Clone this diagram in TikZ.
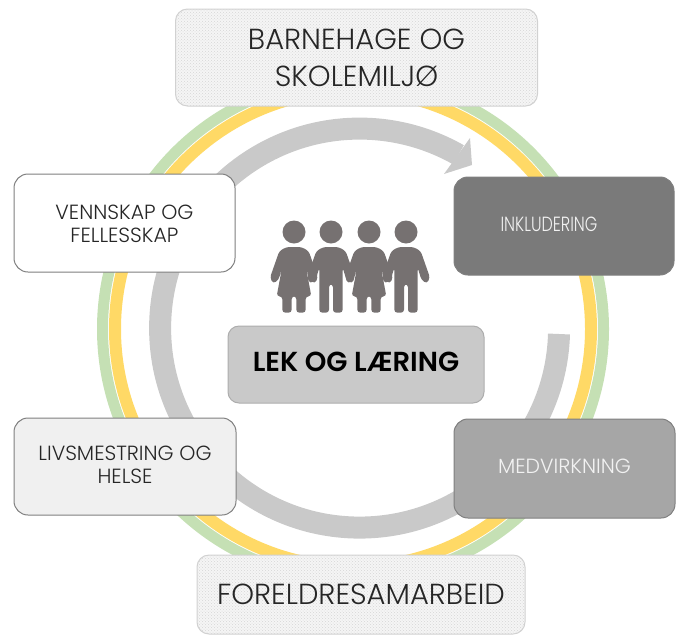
\documentclass[tikz,border=0pt]{standalone}
\usepackage{fontspec}
\usepackage{graphicx}
\setmainfont{Poppins}[UprightFont=* Light,BoldFont=* SemiBold]
\usetikzlibrary{patterns}
\definecolor{ringgreen}{HTML}{C5E0B4}
\definecolor{ringgold}{HTML}{FFD966}
\definecolor{arcgray}{HTML}{C9C9C9}
\definecolor{iconcol}{HTML}{767171}
\definecolor{edgegray}{HTML}{7F7F7F}
\tikzset{
  box/.style={draw=edgegray,line width=1pt,rounded corners=14pt,inner sep=0pt},
  texbox/.style={draw=black!18,line width=1pt,rounded corners=12pt,align=center,inner sep=0pt,fill=black!4,
     postaction={pattern=crosshatch dots,pattern color=black!16},text=black!85},
  small/.style={font=\fontsize{20.5}{23}\selectfont,align=center,inner sep=0pt},
  big/.style={font=\fontsize{29}{37}\selectfont},
}
\newcommand{\girlfig}[1]{%
\begin{scope}[shift={(#1,-247)},x=.3333pt,y=-.3333pt]
  \fill[iconcol,rounded corners=3pt] (-22,0) -- (-44,12) -- (-72,92) -- (-62,110) -- (-46,98) -- (-36,62) -- (-52,148) -- (-35,148) -- (-35,197) -- (-7,197) -- (-7,148) -- (7,148) -- (7,197) -- (35,197) -- (35,148) -- (52,148) -- (36,62) -- (46,98) -- (62,110) -- (72,92) -- (44,12) -- (22,0) -- cycle;
\end{scope}}
\newcommand{\boyfig}[1]{%
\begin{scope}[shift={(#1,-247)},x=.3333pt,y=-.3333pt]
  \fill[iconcol,rounded corners=3pt] (-22,0) -- (-44,12) -- (-72,92) -- (-62,110) -- (-46,98) -- (-35,62) -- (-35,197) -- (-6,197) -- (-6,112) -- (6,112) -- (6,197) -- (35,197) -- (35,62) -- (46,98) -- (62,110) -- (72,92) -- (44,12) -- (22,0) -- cycle;
\end{scope}}
\begin{document}
\begin{tikzpicture}[x=1pt,y=1pt]
\useasboundingbox (0,0) rectangle (682,-635);
% rings
\coordinate (c) at (353,-329);
\draw[ringgreen,line width=11pt] (c) circle (250.5pt);
\draw[ringgold,line width=12pt] (c) circle (238pt);
% gray arrow ring
\draw[arcgray,line width=22pt] (559,-334) arc[start angle=-1.7,end angle=-299.7,radius=199.5pt];
\fill[arcgray] (470,-138) -- (472,-165) -- (444,-174) -- cycle;
% boxes
\node[texbox,big,minimum width=362pt,minimum height=97pt] (barnehage) at (356.5,-57.5) {BARNEHAGE OG\\SKOLEMILJØ};
\node[box,fill=white,minimum width=221pt,minimum height=98pt] (venn) at (124.5,-223) {};
\node[small,text=black!85] (vennT) at ([yshift=-1pt]venn.center) {VENNSKAP OG\\FELLESSKAP};
\node[box,fill=black!52,minimum width=220pt,minimum height=98pt] (inkl) at (564,-226) {};
\node[small,text=black!5] (inklT) at (549,-224) {\scalebox{.78}[1]{INKLUDERING}};
\node[box,fill=black!35,minimum width=221pt,minimum height=99pt] (medv) at (564.5,-468.5) {};
\node[small,text=black!5] (medvT) at ([yshift=2pt]medv.center) {MEDVIRKNING};
\node[box,fill=black!6,minimum width=222pt,minimum height=97pt] (livs) at (125,-466.5) {};
\node[small,text=black!85] (livsT) at ([yshift=2pt]livs.center) {LIVSMESTRING OG\\HELSE};
\node[texbox,big,minimum width=328pt,minimum height=79pt] (foreldre) at (361,-594.5) {FORELDRESAMARBEID};
\node[draw=black!32,line width=1pt,fill=black!21,rounded corners=11pt,minimum width=256pt,minimum height=77pt,inner sep=0pt] (lek) at (356,-364.5) {};
\node[font=\fontsize{27.5}{32}\selectfont\bfseries,text=black,inner sep=0pt] (lekT) at ([yshift=3pt]lek.center) {LEK OG LÆRING};
% people
\foreach \hx in {294,331,369,406} \fill[iconcol] (\hx,-232) circle (11.5pt);
\girlfig{294}
\boyfig{331}
\girlfig{369}
\boyfig{406}
\end{tikzpicture}
\end{document}
